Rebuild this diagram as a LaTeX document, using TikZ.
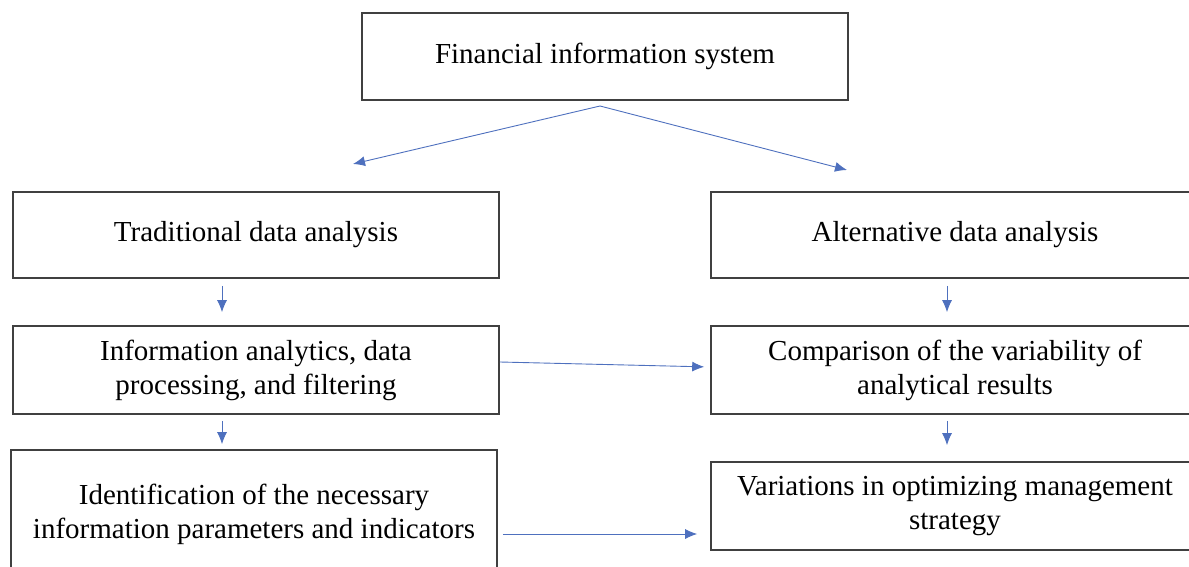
\documentclass[tikz,border=0pt]{standalone}
\usepackage{fontspec}
\setmainfont{Liberation Serif}
\usetikzlibrary{arrows.meta}

\definecolor{linkblue}{RGB}{78,112,190}

\begin{document}
\begin{tikzpicture}[
	x=1pt,y=-1pt,
	box/.style={
		rectangle,
		draw=black!75,
		line width=1.6pt,
		align=center,
		font=\fontsize{29}{34}\selectfont,
		minimum width=486pt,
		inner sep=0pt
	},
	link/.style={
		draw=linkblue,
		line width=0.9pt,
		-{Latex[length=12pt,width=10pt]}
	},
]

\useasboundingbox (0,0) rectangle (1189,567);

% Top
\node[box,minimum height=87pt] (fis) at (605,56.5) {Financial information system};

% Traditional branch
\node[box,minimum height=86pt] (trad) at (256,235) {Traditional data analysis};
\node[box,minimum height=88pt] (info) at (256,370) {Information analytics, data\\processing, and filtering};
\node[box,minimum height=128pt] (ident) at (254,514) {Identification of the necessary\\information parameters and indicators};

% Alternative branch
\node[box,minimum width=488pt,minimum height=86pt] (alt) at (955,235) {Alternative data analysis};
\node[box,minimum width=488pt,minimum height=88pt] (comp) at (955,370) {Comparison of the variability of\\analytical results};
\node[box,minimum width=488pt,minimum height=88pt] (var) at (955,506) {Variations in optimizing management\\strategy};

% Split
\coordinate (split) at (600,106);
\coordinate (tradin) at (353,164);
\coordinate (altin) at (847,170);
\draw[link,shorten <=0pt] (split) -- (tradin);
\draw[link] (split) -- (altin);

% Down the columns
\draw[link,shorten <=7pt,shorten >=13pt] ([xshift=-34pt]trad.south) -- ([xshift=-34pt]info.north);
\draw[link,shorten <=6pt,shorten >=5pt] ([xshift=-34pt]info.south) -- ([xshift=-32pt]ident.north);
\draw[link,shorten <=7pt,shorten >=13pt] ([xshift=-8pt]alt.south) -- ([xshift=-8pt]comp.north);
\draw[link,shorten <=6pt,shorten >=16pt] ([xshift=-8pt]comp.south) -- ([xshift=-8pt]var.north);

% Across
\draw[link,shorten >=6pt] ([yshift=8pt]info.east) -- ([yshift=3pt]comp.west);
\draw[link,shorten <=5pt,shorten >=13pt] ([yshift=-20pt]ident.east) -- ([yshift=-28pt]var.west);

\end{tikzpicture}
\end{document}
